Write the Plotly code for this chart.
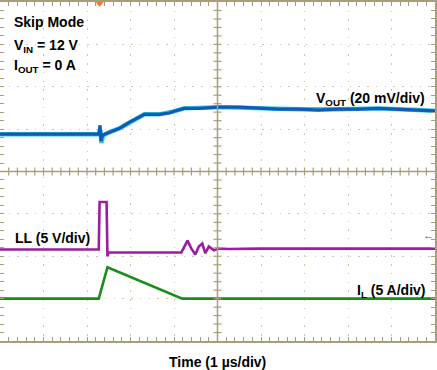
import plotly.graph_objects as go

# ---- data (time in µs, 1 µs/div) ----
vout_t = [0, 2.22, 2.27, 2.30, 2.32, 2.36, 2.52, 2.75, 2.97, 3.20, 3.32, 3.66, 3.89, 4.00, 4.23, 4.58, 5.03, 5.49, 5.95, 6.41, 6.86, 7.32, 7.78, 8.24, 8.70, 9.15, 9.61, 10.0]
vout_mV = [0, 0, 0, 4.2, -3.2, -0.4, 1.0, 2.8, 5.6, 8.0, 9.4, 9.4, 10.0, 10.8, 12.2, 12.2, 12.8, 12.8, 12.2, 11.8, 11.8, 11.4, 11.8, 11.8, 12.2, 11.8, 11.4, 11.0]

vcyan_t = [0, 2.22, 2.27, 2.31, 2.33, 2.37, 2.52, 2.75, 2.97, 3.20, 3.32, 3.66, 4.00, 4.23, 5.03, 5.95, 6.86, 7.78, 8.70, 9.61, 10.0]
vcyan_mV = [0, 0, 0, 2.0, -4.2, -0.6, 1.0, 2.8, 5.6, 8.0, 9.4, 9.4, 10.8, 12.2, 12.8, 12.2, 11.8, 11.8, 12.2, 11.4, 11.0]

ll_t = [0, 2.27, 2.29, 2.45, 2.47, 2.50, 4.17, 4.24, 4.31, 4.40, 4.49, 4.57, 4.65, 4.72, 4.80, 4.92, 5.03, 5.26, 5.95, 10.0]
ll_V = [0, 0, 5.6, 5.6, -0.8, -0.35, -0.35, 0.35, 1.05, 0.1, -0.6, 0.35, 0.7, -0.45, 0.35, -0.1, 0.1, 0.05, 0.1, 0.1]

il_t = [0, 2.27, 2.47, 4.19, 10.0]
il_A = [0, 0, 3.7, 0, 0]

trigger_t = [2.29]

# ---- channel scaling / offsets (divisions) ----
V_SCALE, V_OFF = 20.0, 4.88
LL_SCALE, LL_OFF = 5.0, 2.16
IL_SCALE, IL_OFF = 5.0, 1.00

FONT = "Arial, Liberation Sans, sans-serif"
GRID = "#cfc7ad"
AXC = "#a99e7c"

fig = go.Figure()
fig.add_trace(go.Scatter(x=vcyan_t, y=[V_OFF + v / V_SCALE for v in vcyan_mV], mode="lines",
                         line=dict(color="#35c6e6", width=4.4), hoverinfo="skip"))
fig.add_trace(go.Scatter(x=vout_t, y=[V_OFF + v / V_SCALE for v in vout_mV], mode="lines",
                         line=dict(color="#0b5cb6", width=3.2), hoverinfo="skip"))
fig.add_trace(go.Scatter(x=ll_t, y=[LL_OFF + v / LL_SCALE for v in ll_V], mode="lines",
                         line=dict(color="#9e1c9e", width=2.6)))
fig.add_trace(go.Scatter(x=il_t, y=[IL_OFF + v / IL_SCALE for v in il_A], mode="lines",
                         line=dict(color="#1a8c1a", width=2.6)))
fig.add_trace(go.Scatter(x=trigger_t, y=[8.0], mode="markers", cliponaxis=False,
                         marker=dict(symbol="triangle-down", size=10, color="#f07a2a")))

shapes = []
# center cross
shapes.append(dict(type="line", x0=5, x1=5, y0=0, y1=8, xref="x", yref="y", line=dict(color=AXC, width=1.5)))
shapes.append(dict(type="line", x0=0, x1=10, y0=4, y1=4, xref="x", yref="y", line=dict(color=AXC, width=1.5)))
tx = 4.0 / 43.7
ty = 4.0 / 42.6
for i in range(1, 50):
    xv = i * 0.2
    shapes.append(dict(type="line", x0=xv, x1=xv, y0=4 - ty, y1=4 + ty, xref="x", yref="y", line=dict(color=AXC, width=1.2)))
for i in range(1, 40):
    yv = i * 0.2
    shapes.append(dict(type="line", x0=5 - tx, x1=5 + tx, y0=yv, y1=yv, xref="x", yref="y", line=dict(color=AXC, width=1.2)))

fig.update_layout(shapes=shapes)

ann = []
def a(text, x, y, xanchor="left", size=14, color="black", xref="x", yref="y"):
    ann.append(dict(text=text, x=x, y=y, xref=xref, yref=yref, xanchor=xanchor, yanchor="middle",
                    showarrow=False, font=dict(family=FONT, size=size, color=color)))

a("<b>Skip Mode</b>", 0.27, 7.52)
a("<b>V<sub>IN</sub> = 12 V</b>", 0.27, 6.97)
a("<b>I<sub>OUT</sub> = 0 A</b>", 0.27, 6.50)
a("<b>V<sub>OUT</sub> (20 mV/div)</b>", 9.82, 5.72, xanchor="right")
a("<b>LL (5 V/div)</b>", 0.30, 2.44)
a("<b>I<sub>L</sub> (5 A/div)</b>", 9.82, 1.18, xanchor="right")
a("←", 9.84, 2.51, size=11, color="#9e1c9e", xanchor="center")
a("<b>Time (1 µs/div)</b>", 0.5, -0.062, xanchor="center", size=14, xref="paper", yref="paper")
fig.update_layout(annotations=ann)

fig.update_xaxes(range=[0, 10], showgrid=True, gridcolor=GRID, griddash="1.5px,7.24px", gridwidth=1.3,
                 dtick=1, tick0=0, showticklabels=False, ticks="inside", ticklen=4, tickcolor=AXC,
                 showline=True, linecolor=AXC, linewidth=1.5, mirror="ticks", zeroline=False,
                 minor=dict(dtick=0.2, ticks="inside", ticklen=4, tickcolor=AXC, showgrid=False))
fig.update_yaxes(range=[0, 8], showgrid=True, gridcolor=GRID, griddash="1.5px,7.24px", gridwidth=1.3,
                 dtick=1, tick0=0, showticklabels=False, ticks="inside", ticklen=4, tickcolor=AXC,
                 showline=True, linecolor=AXC, linewidth=1.5, mirror="ticks", zeroline=False,
                 minor=dict(dtick=0.2, ticks="inside", ticklen=4, tickcolor=AXC, showgrid=False))

fig.update_layout(width=437, height=370, margin=dict(l=0, r=0, t=0, b=29),
                  paper_bgcolor="white", plot_bgcolor="white", showlegend=False)

fig.write_html("out.html", config={"displayModeBar": False},
               post_script="document.body.style.margin='0';")
